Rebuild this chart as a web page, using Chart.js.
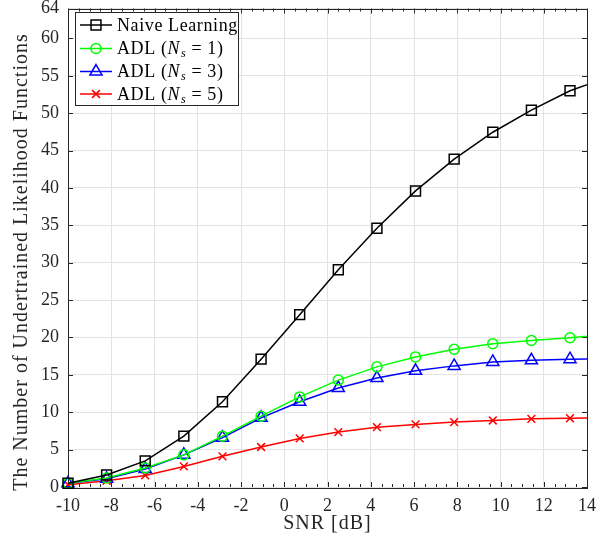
<!DOCTYPE html>
<html><head><meta charset="utf-8">
<script src="https://cdn.jsdelivr.net/npm/chart.js@4.4.1/dist/chart.umd.min.js"></script>
<style>html,body{margin:0;padding:0;background:#fff}canvas{display:block}</style>
</head><body>
<canvas id="c" width="612" height="543"></canvas>
<script>
// ---- data ----
const snr   = [-10, -8.214, -6.429, -4.643, -2.857, -1.071, 0.714, 2.5, 4.286, 6.071, 7.857, 9.643, 11.429, 13.214, 15];
const naive = [0.5, 1.6, 3.5, 6.8, 11.4, 17.1, 23.05, 29.05, 34.6, 39.6, 43.85, 47.45, 50.4, 53.0, 54.8];
const adl1  = [0.5, 1.2, 2.55, 4.3, 6.8, 9.47, 12.05, 14.3, 16.07, 17.4, 18.42, 19.17, 19.6, 19.97, 20.4];
const adl3  = [0.5, 1.1, 2.4, 4.3, 6.6, 9.25, 11.4, 13.24, 14.57, 15.54, 16.2, 16.73, 16.95, 17.09, 17.15];
const adl5  = [0.3, 0.84, 1.55, 2.75, 4.1, 5.35, 6.5, 7.35, 8.0, 8.37, 8.68, 8.9, 9.12, 9.2, 9.3];
const xTicks = [-10, -8, -6, -4, -2, 0, 2, 4, 6, 8, 10, 12, 14];
const yTicks = [0, 5, 10, 15, 20, 25, 30, 35, 40, 45, 50, 55, 60, 64];
const seriesLabels = ['Naive Learning', 'ADL ($N_s = 1$)', 'ADL ($N_s = 3$)', 'ADL ($N_s = 5$)'];
const xTitle = 'SNR [dB]';
const yTitle = 'The Number of Undertrained Likelihood Functions';

const SERIF = '"Liberation Serif", "Times New Roman", serif';
const AXC = '#262626';

function pts(ys) { return snr.map((x, i) => ({x: x, y: ys[i]})); }

const styles = [
  {color: '#000000', pointStyle: 'rect', radius: 7},
  {color: '#00ff00', pointStyle: 'circle', radius: 5},
  {color: '#0000ff', pointStyle: 'triangle', radius: 7},
  {color: '#ff0000', pointStyle: 'crossRot', radius: 5.5}
];
const series = [naive, adl1, adl3, adl5];

const datasets = series.map((s, i) => ({
  label: seriesLabels[i],
  data: pts(s),
  borderColor: styles[i].color,
  backgroundColor: styles[i].color,
  borderWidth: 1.5,
  pointStyle: styles[i].pointStyle,
  pointRadius: styles[i].radius,
  pointHoverRadius: styles[i].radius,
  pointBorderColor: styles[i].color,
  pointBackgroundColor: 'rgba(0,0,0,0)',
  pointBorderWidth: 1.5,
  tension: 0,
  clip: {left: 12, top: 12, right: 0, bottom: 12}
}));

function drawMixed(ctx, label, x, y, size, measureOnly) {
  const parts = [];
  const re = /\$([^$]*)\$/g;
  let last = 0, m;
  while ((m = re.exec(label)) !== null) {
    if (m.index > last) parts.push({t: label.slice(last, m.index), f: 'n'});
    const math = m[1];
    const mm = /^(\w)_(\w)\s*=\s*(\S+)$/.exec(math);
    if (mm) {
      parts.push({t: mm[1], f: 'i'});
      parts.push({t: mm[2], f: 'sub'});
      parts.push({t: ' = ' + mm[3], f: 'n'});
    } else parts.push({t: math, f: 'i'});
    last = re.lastIndex;
  }
  if (last < label.length) parts.push({t: label.slice(last), f: 'n'});
  let cx = x;
  for (const p of parts) {
    let font, dy = 0;
    if (p.f === 'n') font = size + 'px ' + SERIF;
    else if (p.f === 'i') font = 'italic ' + size + 'px ' + SERIF;
    else { font = 'italic ' + Math.round(size * 0.68) + 'px ' + SERIF; dy = size * 0.26; }
    ctx.font = font;
    if (!measureOnly) ctx.fillText(p.t, cx, y + dy);
    cx += ctx.measureText(p.t).width + (p.f === 'i' ? 1 : 0);
  }
  return cx - x;
}

const decor = {
  id: 'decor',
  beforeDatasetsDraw(chart) {
    const ctx = chart.ctx, a = chart.chartArea;
    const xs = chart.scales.x, ys = chart.scales.y;
    ctx.save();
    ctx.strokeStyle = AXC;
    ctx.lineWidth = 1;
    ctx.beginPath();
    xTicks.forEach(v => {
      const px = Math.round(xs.getPixelForValue(v)) + 0.5;
      ctx.moveTo(px, a.bottom); ctx.lineTo(px, a.bottom - 5);
      ctx.moveTo(px, a.top); ctx.lineTo(px, a.top + 5);
    });
    for (let i = 0; i < xTicks.length - 1; i++) {
      for (let k = 1; k < 4; k++) {
        const v = xTicks[i] + (xTicks[i + 1] - xTicks[i]) * k / 4;
        const px = Math.round(xs.getPixelForValue(v)) + 0.5;
        ctx.moveTo(px, a.bottom); ctx.lineTo(px, a.bottom - 3);
        ctx.moveTo(px, a.top); ctx.lineTo(px, a.top + 3);
      }
    }
    yTicks.forEach(v => {
      const py = Math.round(ys.getPixelForValue(v)) + 0.5;
      ctx.moveTo(a.left, py); ctx.lineTo(a.left + 5, py);
      ctx.moveTo(a.right, py); ctx.lineTo(a.right - 5, py);
    });
    ctx.stroke();
    ctx.strokeRect(Math.round(a.left) + 0.5, Math.round(a.top) + 0.5,
                   Math.round(a.right - a.left), Math.round(a.bottom - a.top));
    ctx.restore();
  },
  afterDraw(chart) {
    const ctx = chart.ctx, a = chart.chartArea;
    ctx.save();
    ctx.fillStyle = AXC;
    ctx.font = '20px ' + SERIF;
    ctx.letterSpacing = '1px';
    ctx.textAlign = 'center';
    ctx.textBaseline = 'middle';
    ctx.fillText(xTitle, (a.left + a.right) / 2, 524);
    ctx.save();
    ctx.translate(22, 262);
    ctx.rotate(-Math.PI / 2);
    ctx.fillText(yTitle, 0, 0);
    ctx.restore();
    const bx = 75.5, by = 12.5, bw = 163, bh = 93;
    ctx.fillStyle = '#ffffff';
    ctx.fillRect(bx, by, bw, bh);
    ctx.strokeStyle = AXC;
    ctx.lineWidth = 1;
    ctx.strokeRect(bx, by, bw, bh);
    const rows = [25, 48.5, 71.5, 94];
    ctx.letterSpacing = '0.6px';
    chart.data.datasets.forEach((ds, i) => {
      const y = rows[i];
      ctx.strokeStyle = ds.borderColor;
      ctx.lineWidth = 1.5;
      ctx.beginPath();
      ctx.moveTo(80, y); ctx.lineTo(112, y);
      ctx.stroke();
      ctx.fillStyle = 'rgba(0,0,0,0)';
      Chart.helpers.drawPoint(ctx, {pointStyle: ds.pointStyle, radius: ds.pointRadius, borderWidth: 1.5, rotation: 0}, 96, y);
      ctx.fillStyle = '#000000';
      ctx.textAlign = 'left';
      ctx.textBaseline = 'middle';
      drawMixed(ctx, ds.label, 117, y + 1, 18, false);
    });
    ctx.restore();
  }
};

new Chart(document.getElementById('c'), {
  type: 'line',
  data: {datasets: datasets},
  plugins: [decor],
  options: {
    responsive: false,
    devicePixelRatio: 1,
    animation: false,
    events: [],
    layout: {padding: {left: 0, right: 25, top: 5, bottom: 0}},
    plugins: {legend: {display: false}, tooltip: {enabled: false}, title: {display: false}},
    scales: {
      x: {
        type: 'linear', min: -10, max: 14,
        afterBuildTicks: s => { s.ticks = xTicks.map(v => ({value: v})); },
        afterFit: s => { s.height = 56; s.paddingLeft = 0; s.paddingRight = 0; },
        grid: {color: '#e3e3e3', lineWidth: 1, drawTicks: false},
        border: {display: false},
        ticks: {color: AXC, font: {family: SERIF, size: 18}, padding: 8, maxRotation: 0, autoSkip: false,
                callback: v => String(v)}
      },
      y: {
        type: 'linear', min: 0, max: 64,
        afterBuildTicks: s => { s.ticks = yTicks.map(v => ({value: v})); },
        afterFit: s => { s.width = 68; s.paddingTop = 0; s.paddingBottom = 0; },
        grid: {color: '#e3e3e3', lineWidth: 1, drawTicks: false},
        border: {display: false},
        ticks: {color: AXC, font: {family: SERIF, size: 18}, padding: 9, autoSkip: false,
                callback: v => String(v)}
      }
    }
  }
});
</script>
</body></html>
